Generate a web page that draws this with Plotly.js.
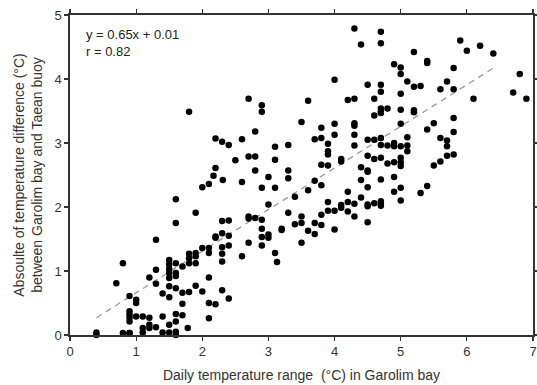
<!DOCTYPE html>
<html>
<head>
<meta charset="utf-8">
<script src="https://cdn.plot.ly/plotly-3.0.1.min.js"></script>
<style>html,body{margin:0;padding:0;background:#fff;}#chart{width:537px;height:385px;}</style>
</head>
<body>
<div id="chart"></div>
<script>
// Daily temperature range (°C) in Garolim bay
const xRange = [
0.4,0.4,0.7,0.8,0.8,
0.9,0.9,0.9,0.9,0.9,0.9,0.9,
1.0,1.0,1.0,
1.1,1.1,1.1,
1.2,1.2,1.2,1.2,
1.3,1.3,1.3,1.3,
1.4,1.4,1.4,
1.5,1.5,1.5,1.5,1.5,1.5,1.5,1.5,1.5,
1.6,1.6,1.6,1.6,1.6,1.6,1.6,1.6,1.6,1.6,
1.7,1.7,1.7,1.7,
1.8,1.8,1.8,1.8,1.8,1.78,
1.9,1.9,1.9,1.9,1.9,
2.0,2.0,2.0,
2.1,2.1,2.1,2.1,2.1,2.1,
2.2,2.2,2.17,2.2,2.2,2.2,
2.3,2.31,2.3,2.3,2.3,2.3,2.3,2.3,
2.4,2.4,2.4,2.4,2.4,
2.5,
2.6,2.6,2.6,
2.7,2.7,2.7,2.7,2.7,
2.8,2.8,2.8,2.8,
2.9,2.9,2.9,2.9,2.9,2.9,2.9,
3.0,3.0,3.0,3.0,
3.1,3.1,3.1,3.1,3.13,
3.2,3.2,
3.3,3.3,3.3,3.3,
3.4,3.4,
3.5,3.5,3.5,3.5,
3.6,3.6,3.6,
3.7,3.7,3.7,3.7,
3.8,3.8,3.8,3.8,3.8,3.8,
3.9,3.9,3.9,3.9,3.9,3.9,
4.0,4.0,4.0,4.0,4.0,
4.1,4.1,4.1,4.1,
4.2,4.2,4.2,4.2,
4.3,4.3,4.3,4.3,4.3,4.3,4.3,4.3,
4.4,4.4,4.4,4.4,
4.5,4.5,4.5,4.5,4.5,4.5,4.5,4.5,4.5,
4.6,4.6,4.6,4.6,4.6,
4.7,4.7,4.7,4.7,4.7,4.7,4.7,4.7,4.7,4.7,4.7,4.7,4.7,4.7,
4.8,4.8,4.8,
4.9,4.9,4.9,4.9,4.9,4.9,
5.0,5.0,5.0,5.0,5.0,5.0,5.0,5.0,5.0,5.0,5.0,
5.1,5.1,5.1,5.1,
5.2,5.2,5.2,5.2,
5.3,5.3,
5.4,5.4,5.4,5.4,
5.5,5.5,
5.6,5.6,5.6,
5.7,5.7,5.7,5.7,
5.8,5.8,5.8,5.8,5.8,
5.9,6.0,6.1,6.2,6.4,6.7,6.8,6.9
];
// Absolute temperature difference (°C) between Garolim bay and Taean buoy
const tempDiff = [
0.04,0.0,0.81,1.12,0.03,
0.61,0.37,0.32,0.27,0.21,0.03,0.03,
0.55,0.5,0.29,
0.29,0.11,0.04,
0.9,0.27,0.16,0.11,
1.49,1.02,0.8,0.12,
0.65,0.29,0.04,
1.17,1.1,1.03,0.97,0.89,0.76,0.59,0.16,0.04,
2.12,1.75,1.12,0.97,0.92,0.73,0.33,0.21,0.05,0.0,
1.07,0.66,0.49,0.31,
3.49,1.27,1.2,1.12,0.67,0.11,
1.91,1.28,1.23,1.12,0.77,
2.31,1.36,0.68,
2.36,1.36,1.28,0.9,0.5,0.26,
3.07,2.61,2.49,1.54,1.52,0.48,
3.02,2.42,1.78,1.59,1.37,1.27,1.15,0.7,
2.97,1.79,1.55,1.4,0.57,
2.73,
3.06,2.39,1.23,
3.69,2.79,1.85,1.82,1.44,
3.18,2.79,2.57,1.83,
3.59,3.49,2.3,1.8,1.66,1.53,1.4,
2.47,2.04,1.57,1.52,
2.94,2.74,2.3,1.28,1.14,
1.66,1.64,
2.97,2.57,2.45,1.91,
2.16,1.73,
3.33,1.85,1.75,1.44,
3.66,2.26,1.63,
3.06,2.41,1.75,1.58,
3.24,3.08,2.66,2.34,1.88,1.72,
2.99,2.87,2.82,2.65,2.08,1.94,
3.99,3.3,3.13,1.94,1.65,
2.75,2.71,2.03,1.99,
3.67,2.24,2.08,1.93,
4.79,3.69,3.31,3.27,3.13,2.96,2.05,1.85,
4.54,2.62,2.42,2.15,
3.91,3.05,2.8,2.57,2.55,2.31,2.04,2.01,1.76,
3.69,3.43,3.05,2.75,2.06,
4.74,4.56,3.91,3.8,3.54,3.49,3.47,3.08,2.97,2.77,2.43,2.09,2.05,2.02,
3.54,2.96,2.68,
4.23,3.0,2.95,2.7,2.47,2.24,
4.18,4.08,3.77,3.52,3.3,2.95,2.77,2.7,2.64,2.3,2.1,
3.96,3.09,2.96,2.87,
4.42,3.88,3.51,3.48,
3.89,2.22,
4.28,4.25,3.21,2.33,
3.31,2.65,
3.84,3.08,2.71,
3.96,3.04,2.95,2.8,
4.17,3.84,3.39,3.17,2.82,
4.6,4.44,3.69,4.52,4.4,3.79,4.08,3.69
];
// Regression line: y = 0.65x + 0.01, drawn over x = 0.4 .. 6.4
const fitX = [0.4, 6.4];
const fitSlope = 0.65;
const fitIntercept = 0.01;
const fitY = fitX.map(v => fitSlope * v + fitIntercept);

const xTicks = [0,1,2,3,4,5,6,7];
const yTicks = [0,1,2,3,4,5];

const axisCommon = {
  showgrid: false, zeroline: false,
  showline: true, linecolor: '#333', linewidth: 1.6,
  mirror: 'ticks', ticks: 'outside', ticklen: 4, tickwidth: 1.2, tickcolor: '#333',
  tickfont: {family: 'Liberation Sans, Arial, sans-serif', size: 13, color: '#333'}
};

const data = [
  {x: fitX, y: fitY, mode: 'lines', type: 'scatter',
   line: {color: '#999', width: 1.3, dash: '6px,5px'}, hoverinfo: 'skip'},
  {x: xRange, y: tempDiff, mode: 'markers', type: 'scatter',
   marker: {color: '#000', size: 6.5}, cliponaxis: false}
];

const layout = {
  width: 537, height: 385,
  margin: {l: 70, r: 4, t: 15, b: 50},
  paper_bgcolor: '#fff', plot_bgcolor: '#fff',
  showlegend: false,
  xaxis: Object.assign({}, axisCommon, {
    range: [0, 7], tickvals: xTicks, ticktext: xTicks.map(String),
    title: {text: 'Daily temperature range  (°C) in Garolim bay',
      font: {family: 'Liberation Sans, Arial, sans-serif', size: 14, color: '#333'}, standoff: 12}
  }),
  yaxis: Object.assign({}, axisCommon, {
    range: [0, 5], tickvals: yTicks, ticktext: yTicks.map(String),
    title: {text: 'Absoulte of temperature difference (°C)<br>between Garolim bay and Taean buoy',
      font: {family: 'Liberation Sans, Arial, sans-serif', size: 14, color: '#333'}, standoff: 8}
  }),
  annotations: [{
    xref: 'paper', yref: 'paper', x: 0.03, y: 0.97, xanchor: 'left', yanchor: 'top',
    align: 'left', showarrow: false,
    text: 'y = 0.65x + 0.01<br>r = 0.82',
    font: {family: 'Liberation Sans, Arial, sans-serif', size: 13, color: '#222'}
  }]
};

Plotly.newPlot('chart', data, layout, {displayModeBar: false, staticPlot: true});
</script>
</body>
</html>
